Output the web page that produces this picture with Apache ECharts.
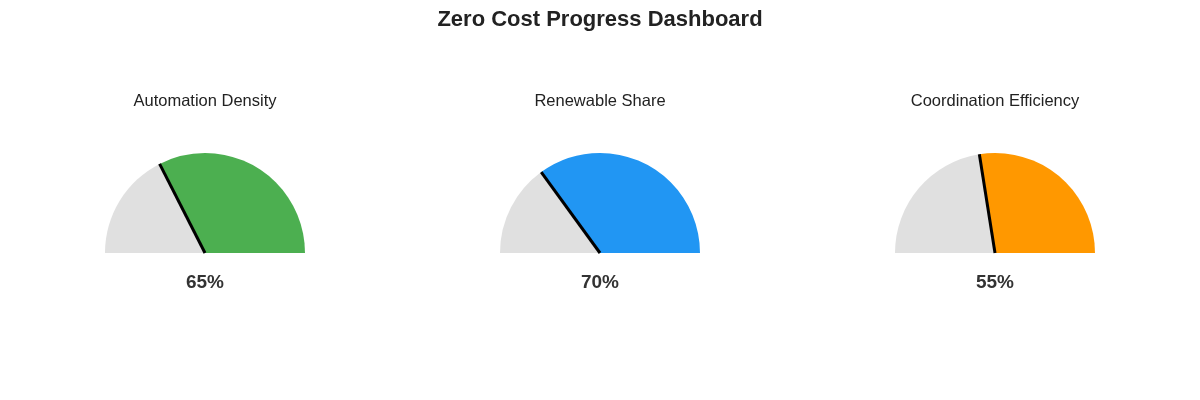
<!DOCTYPE html>
<html><head><meta charset="utf-8">
<script src="https://cdn.jsdelivr.net/npm/echarts@6/dist/echarts.min.js"></script>
<style>html,body{margin:0;padding:0;background:#fff}#c{width:1200px;height:400px}</style>
</head><body><div id="c"></div>
<script>
const chartTitle = 'Zero Cost Progress Dashboard';
const gaugeNames = ['Automation Density', 'Renewable Share', 'Coordination Efficiency'];
const gaugeValues = [65, 70, 55];
const gaugeColors = ['#4CAF50', '#2196F3', '#FF9800'];
const centersX = [205, 600, 995];
const centerY = 253;
const R = 100;
const FONT = '"Liberation Sans", Arial, sans-serif';

const titles = [{
  text: chartTitle, left: 'center', top: 4,
  textStyle: {fontFamily: FONT, fontSize: 22, fontWeight: 'bold', color: '#222'}
}];
const series = [];
gaugeNames.forEach((name, i) => {
  titles.push({
    text: name, left: centersX[i], top: 93, textAlign: 'center', padding: 0,
    textStyle: {fontFamily: FONT, fontSize: 16.5, fontWeight: 'normal', color: '#222'}
  });
  series.push({
    type: 'pie', center: [centersX[i], centerY], radius: [0, R], z: 1,
    startAngle: 0, clockwise: false, silent: true, animation: false,
    label: {show: false}, labelLine: {show: false},
    data: [
      {value: gaugeValues[i], itemStyle: {color: gaugeColors[i]}},
      {value: 100 - gaugeValues[i], itemStyle: {color: '#E0E0E0'}},
      {value: 100, itemStyle: {color: 'rgba(0,0,0,0)'}}
    ]
  });
  series.push({
    type: 'gauge', center: [centersX[i], centerY], radius: R, z: 10,
    startAngle: 180, endAngle: 0, min: 100, max: 0,
    animation: false, silent: true,
    axisLine: {show: false}, axisTick: {show: false}, splitLine: {show: false},
    axisLabel: {show: false}, progress: {show: false}, anchor: {show: false},
    pointer: {show: true, icon: 'rect', length: '100%', width: 3, offsetCenter: [0, 0],
      itemStyle: {color: '#000'}},
    title: {show: false},
    detail: {show: true, offsetCenter: [0, 30], formatter: '{value}%',
      fontFamily: FONT, fontSize: 19, fontWeight: 'bold', color: '#333'},
    data: [{value: gaugeValues[i], name: name}]
  });
});
const chart = echarts.init(document.getElementById('c'));
chart.setOption({backgroundColor: '#fff', animation: false, title: titles, series: series});
</script></body></html>
